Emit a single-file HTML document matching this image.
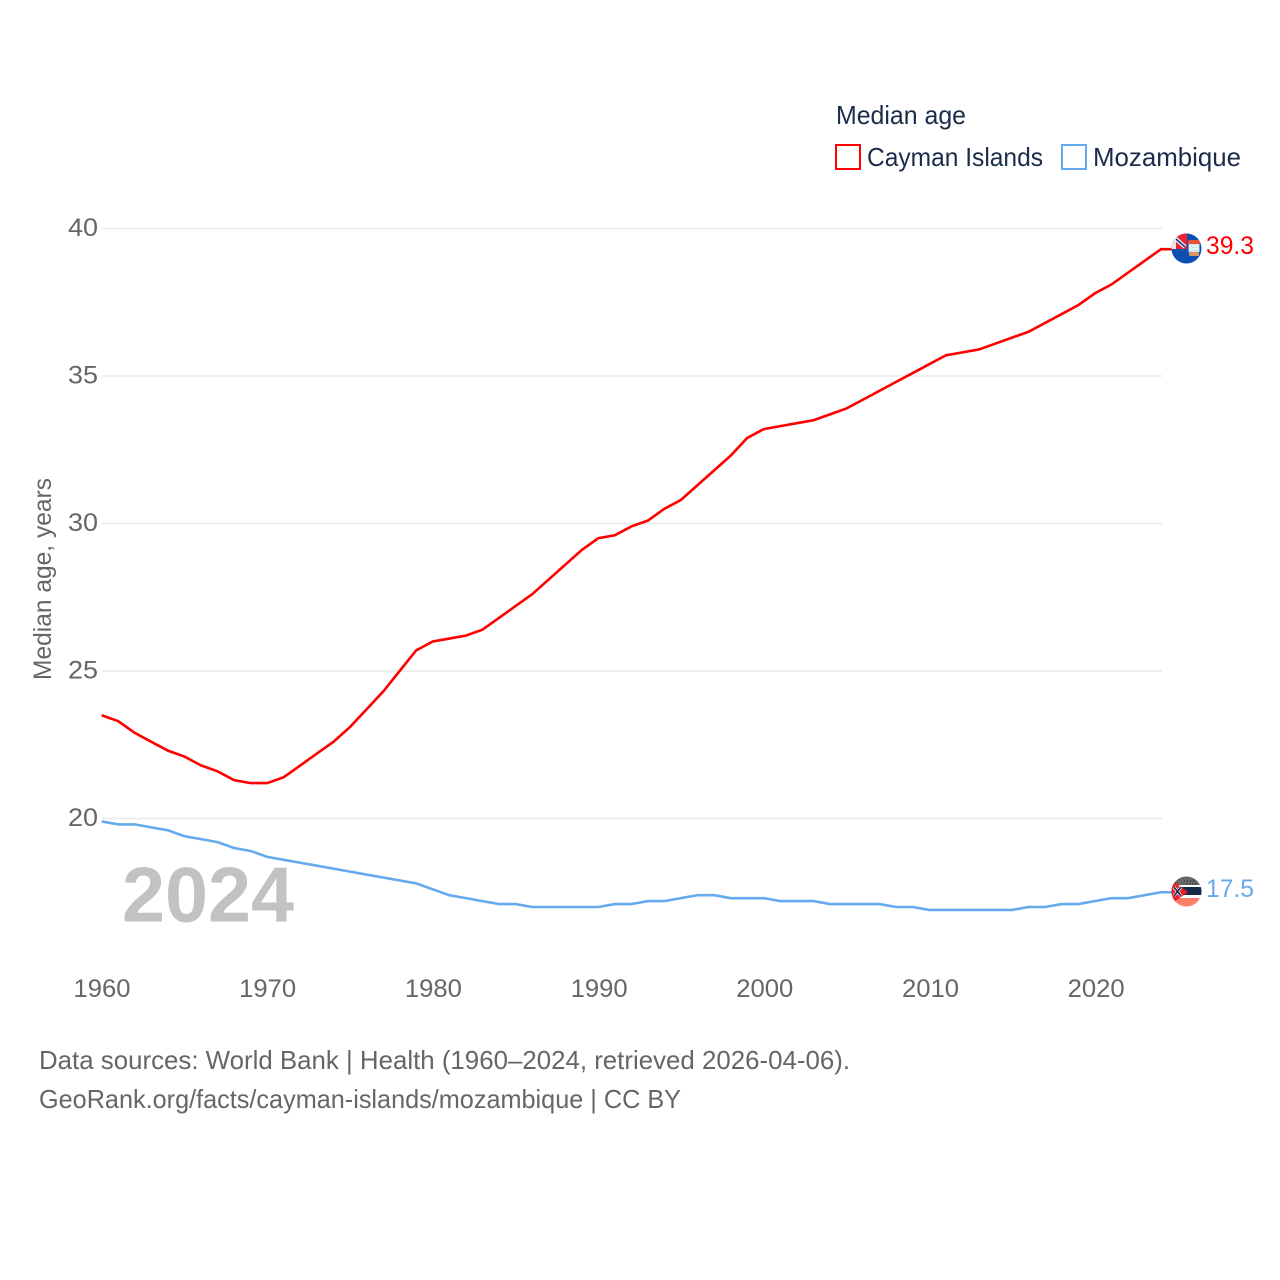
<!DOCTYPE html>
<html lang="en">
<head>
<meta charset="utf-8">
<title>Median age: Cayman Islands vs Mozambique</title>
<style>
html,body{margin:0;padding:0;background:#fff;}
#chart{display:block;width:1280px;height:1280px;font-family:"Liberation Sans",sans-serif;}
</style>
</head>
<body>
<svg id="chart" xmlns="http://www.w3.org/2000/svg" width="1280" height="1280" viewBox="0 0 1280 1280">
  <rect x="0" y="0" width="1280" height="1280" fill="#ffffff"/>
  <defs>
    <clipPath id="clip-cayman"><circle cx="1186.5" cy="248.5" r="15"/></clipPath>
    <clipPath id="clip-moz"><circle cx="1186.5" cy="891.5" r="15"/></clipPath>
  </defs>
  <g id="grid"></g>
  <g id="yticks"></g>
  <g id="xticks"></g>
  <text x="122" y="921.5" font-size="78" font-weight="700" fill="#c2c2c2" textLength="172" lengthAdjust="spacingAndGlyphs">2024</text>
  <g id="series"></g>

  <text transform="translate(51,680) rotate(-90)" font-size="25" fill="#666666" textLength="202" lengthAdjust="spacingAndGlyphs">Median age, years</text>

  <g>
    <text x="836" y="124" font-size="26" fill="#1b2c4b" textLength="130" lengthAdjust="spacingAndGlyphs">Median age</text>
    <rect x="836" y="145" width="24" height="24" fill="none" stroke="#ff0000" stroke-width="2"/>
    <text x="867" y="166" font-size="26" fill="#1b2c4b" textLength="176" lengthAdjust="spacingAndGlyphs">Cayman Islands</text>
    <rect x="1062" y="145" width="24" height="24" fill="none" stroke="#66aaee" stroke-width="2"/>
    <text x="1093" y="166" font-size="26" fill="#1b2c4b" textLength="148" lengthAdjust="spacingAndGlyphs">Mozambique</text>
  </g>

  <g clip-path="url(#clip-cayman)">
    <rect x="1170" y="232" width="34" height="34" fill="#0b4fb3"/>
    <rect x="1170" y="232" width="17" height="17" fill="#ee2233"/>
    <rect x="1170" y="238" width="6" height="11" fill="#e4e4ea"/>
    <path d="M1175 238l10 9" stroke="#f4f4f8" stroke-width="4"/>
    <path d="M1176 239l9 8" stroke="#1b3b86" stroke-width="1.6"/>
    <rect x="1188" y="240" width="12" height="4" rx="1" fill="#e8503a"/>
    <rect x="1188.5" y="244" width="11" height="8" fill="#cfe4f2"/>
    <path d="M1189 246h10M1189 249h10" stroke="#ffffff" stroke-width="1"/>
    <rect x="1189" y="252" width="10" height="4" rx="1" fill="#d8965a"/>
  </g>
  <g clip-path="url(#clip-moz)">
    <rect x="1170" y="875" width="34" height="11" fill="#666666"/>
    <path d="M1184 881h12M1186 884h12" stroke="#222222" stroke-width="1" stroke-dasharray="1 2"/>
    <rect x="1170" y="885" width="34" height="2" fill="#ffffff"/>
    <rect x="1170" y="887" width="34" height="8" fill="#17294a"/>
    <rect x="1170" y="895" width="34" height="3" fill="#ffffff"/>
    <rect x="1170" y="898" width="34" height="10" fill="#ff7f6a"/>
    <path d="M1160 872L1188 892L1160 912z" fill="#ee1c25"/>
    <path d="M1174 887l7 9M1181 887l-7 9" stroke="#ffffff" stroke-width="3"/>
    <path d="M1174 887l7 9M1181 887l-7 9" stroke="#17294a" stroke-width="1.6"/>
  </g>

  <text x="1206" y="254" font-size="25" fill="#ff0000" textLength="48" lengthAdjust="spacingAndGlyphs">39.3</text>
  <text x="1206" y="897" font-size="25" fill="#66aaee" textLength="48" lengthAdjust="spacingAndGlyphs">17.5</text>

  <text x="39" y="1069" font-size="26" fill="#666666" textLength="811" lengthAdjust="spacingAndGlyphs">Data sources: World Bank | Health (1960–2024, retrieved 2026-04-06).</text>
  <text x="39" y="1108" font-size="26" fill="#666666" textLength="642" lengthAdjust="spacingAndGlyphs">GeoRank.org/facts/cayman-islands/mozambique | CC BY</text>
</svg>
<script>
const years = [1960,1961,1962,1963,1964,1965,1966,1967,1968,1969,1970,1971,1972,1973,1974,1975,1976,1977,1978,1979,1980,1981,1982,1983,1984,1985,1986,1987,1988,1989,1990,1991,1992,1993,1994,1995,1996,1997,1998,1999,2000,2001,2002,2003,2004,2005,2006,2007,2008,2009,2010,2011,2012,2013,2014,2015,2016,2017,2018,2019,2020,2021,2022,2023,2024];
const caymanValues = [23.5,23.3,22.9,22.6,22.3,22.1,21.8,21.6,21.3,21.2,21.2,21.4,21.8,22.2,22.6,23.1,23.7,24.3,25.0,25.7,26.0,26.1,26.2,26.4,26.8,27.2,27.6,28.1,28.6,29.1,29.5,29.6,29.9,30.1,30.5,30.8,31.3,31.8,32.3,32.9,33.2,33.3,33.4,33.5,33.7,33.9,34.2,34.5,34.8,35.1,35.4,35.7,35.8,35.9,36.1,36.3,36.5,36.8,37.1,37.4,37.8,38.1,38.5,38.9,39.3];
const mozambiqueValues = [19.9,19.8,19.8,19.7,19.6,19.4,19.3,19.2,19.0,18.9,18.7,18.6,18.5,18.4,18.3,18.2,18.1,18.0,17.9,17.8,17.6,17.4,17.3,17.2,17.1,17.1,17.0,17.0,17.0,17.0,17.0,17.1,17.1,17.2,17.2,17.3,17.4,17.4,17.3,17.3,17.3,17.2,17.2,17.2,17.1,17.1,17.1,17.1,17.0,17.0,16.9,16.9,16.9,16.9,16.9,16.9,17.0,17.0,17.1,17.1,17.2,17.3,17.3,17.4,17.5];
const yTickValues = [20,25,30,35,40];
const xTickValues = [1960,1970,1980,1990,2000,2010,2020];

const SVG_NS = 'http://www.w3.org/2000/svg';
function xScale(year){ return 101.7 + (year - 1960) * (1161 - 101.7) / 64; }
function yScale(v){ return 818.5 - (v - 20) * (818.5 - 228.5) / 20; }

const gridGroup = document.getElementById('grid');
const yGroup = document.getElementById('yticks');
const xGroup = document.getElementById('xticks');
const seriesGroup = document.getElementById('series');

yTickValues.forEach(function(v){
  const line = document.createElementNS(SVG_NS, 'line');
  
  
  line.setAttribute('x1', 102);
  line.setAttribute('x2', 1162);
  line.setAttribute('y1', yScale(v));
  line.setAttribute('y2', yScale(v));
  line.setAttribute('stroke', '#e9e9e9');
  line.setAttribute('stroke-width', '1.5');
  gridGroup.appendChild(line);

  const label = document.createElementNS(SVG_NS, 'text');
  
  
  label.setAttribute('x', 68);
  label.setAttribute('y', yScale(v) + 7.5);
  label.setAttribute('font-size', '25');
  label.setAttribute('fill', '#666666');
  label.setAttribute('textLength', '30');
  label.setAttribute('lengthAdjust', 'spacingAndGlyphs');
  label.textContent = String(v);
  yGroup.appendChild(label);
});

xTickValues.forEach(function(year){
  const label = document.createElementNS(SVG_NS, 'text');
  
  
  label.setAttribute('x', 102 + (year - 1960) * 16.57 - 28.5);
  label.setAttribute('y', 997);
  label.setAttribute('font-size', '25');
  label.setAttribute('fill', '#666666');
  label.setAttribute('textLength', '57');
  label.setAttribute('lengthAdjust', 'spacingAndGlyphs');
  label.textContent = String(year);
  xGroup.appendChild(label);
});

function linePoints(values){
  return values.map(function(v, i){
    return xScale(years[i]).toFixed(2) + ',' + yScale(v).toFixed(2);
  });
}

const mozPoints = linePoints(mozambiqueValues);
const mozLine = document.createElementNS(SVG_NS, 'polyline');


mozLine.setAttribute('points', mozPoints.join(' ') + ' 1172,' + yScale(mozambiqueValues[mozambiqueValues.length - 1]).toFixed(2));
mozLine.setAttribute('fill', 'none');
mozLine.setAttribute('stroke', '#66aaee');
mozLine.setAttribute('stroke-width', '2.6');
seriesGroup.appendChild(mozLine);

const caymanPoints = linePoints(caymanValues);
const caymanLine = document.createElementNS(SVG_NS, 'polyline');


caymanLine.setAttribute('points', caymanPoints.join(' ') + ' 1172,' + yScale(caymanValues[caymanValues.length - 1]).toFixed(2));
caymanLine.setAttribute('fill', 'none');
caymanLine.setAttribute('stroke', '#ff0000');
caymanLine.setAttribute('stroke-width', '2.6');
seriesGroup.appendChild(caymanLine);
</script>
</body>
</html>
